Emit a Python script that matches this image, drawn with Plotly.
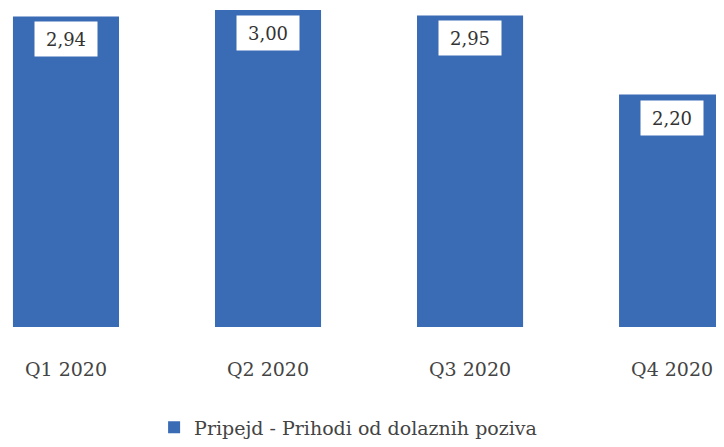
import plotly.graph_objects as go

categories = ["Q1 2020", "Q2 2020", "Q3 2020", "Q4 2020"]
values = [2.94, 3.00, 2.95, 2.20]
labels = ["2,94", "3,00", "2,95", "2,20"]
series_name = "Pripejd - Prihodi od dolaznih poziva"

BAR_COLOR = "#3A6BB5"
FONT = "DejaVu Serif"

fig = go.Figure()
fig.add_trace(go.Bar(
    x=categories, y=values, name=series_name,
    marker=dict(color=BAR_COLOR, line=dict(width=0)),
    width=0.525, showlegend=True,
))

for c, v, t in zip(categories, values, labels):
    fig.add_annotation(
        x=c, y=v, xref="x", yref="y", text=t, showarrow=False,
        yanchor="top", yshift=-5, bgcolor="white",
        width=60, height=32, align="center", valign="middle",
        font=dict(family=FONT, size=18, color="#333333"),
    )

# page body has an 8px default margin, so the figure is sized to fit the window
fig.update_layout(
    width=716, height=439,
    margin=dict(l=0, r=0, t=0, b=112),
    paper_bgcolor="white", plot_bgcolor="white",
    font=dict(family=FONT, color="#444444"),
    showlegend=True,
    legend=dict(orientation="h", x=0.475, xanchor="center", y=-0.315, yanchor="middle",
                font=dict(family=FONT, size=19, color="#444444")),
    xaxis=dict(range=[-0.287, 3.257], showgrid=False, showline=False, zeroline=False,
               ticks="", tickfont=dict(family=FONT, size=19, color="#444444"),
               ticklabelstandoff=29),
    yaxis=dict(range=[0, 3.02], visible=False, showgrid=False, zeroline=False),
)

fig.write_html("out.html")
